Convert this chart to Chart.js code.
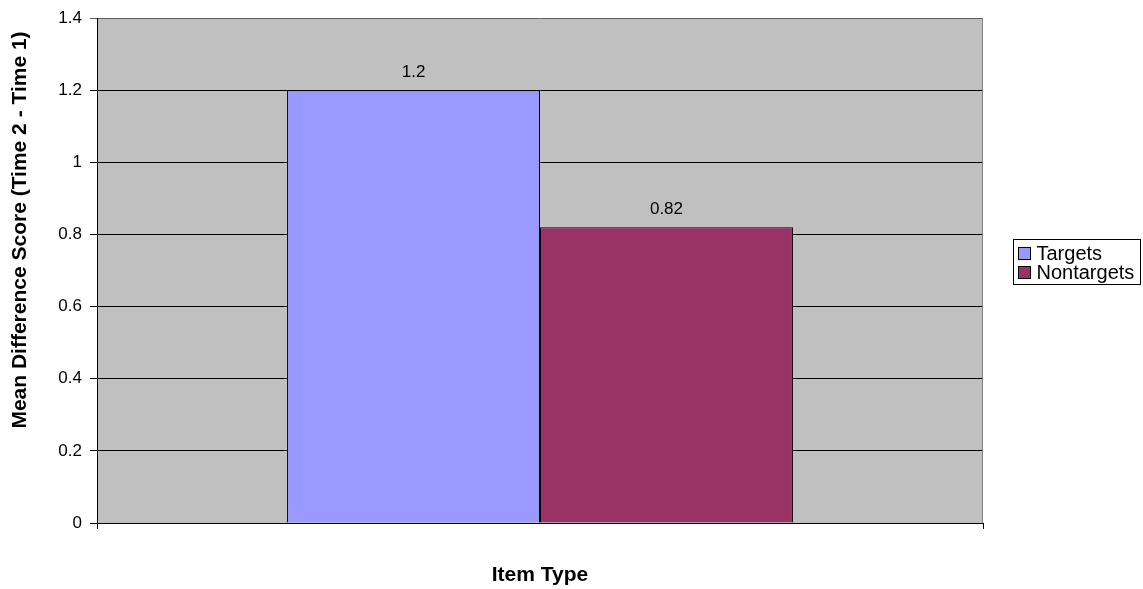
<!DOCTYPE html>
<html>
<head>
<meta charset="utf-8">
<script src="https://cdn.jsdelivr.net/npm/chart.js"></script>
<style>
  html, body { margin: 0; padding: 0; background: #fff; }
  canvas { display: block; }
</style>
</head>
<body>
<canvas id="chart" width="1143" height="589"></canvas>
<script>
const categories = [''];
const seriesNames = ['Targets', 'Nontargets'];
const targets = [1.2];
const nontargets = [0.82];
const seriesColors = ['#9999FF', '#993366'];
const yTitle = 'Mean Difference Score (Time 2 - Time 1)';
const xTitle = 'Item Type';

const FONT = 'Arial, "Liberation Sans", sans-serif';

// gray plot background plus the gray right frame
const plotBackground = {
  id: 'plotBackground',
  beforeDraw(chart) {
    const { ctx, chartArea: a } = chart;
    ctx.save();
    ctx.fillStyle = '#C0C0C0';
    ctx.fillRect(a.left, a.top, a.right - a.left, a.bottom - a.top);
    ctx.restore();
  },
  beforeDatasetsDraw(chart) {
    const { ctx, chartArea: a } = chart;
    ctx.save();
    ctx.strokeStyle = '#808080';
    ctx.lineWidth = 1;
    ctx.beginPath();
    ctx.moveTo(a.right - 0.5, a.top);
    ctx.lineTo(a.right - 0.5, a.bottom);
    ctx.stroke();
    ctx.restore();
  }
};

// value labels above each bar
const valueLabels = {
  id: 'valueLabels',
  afterDatasetsDraw(chart) {
    const { ctx } = chart;
    ctx.save();
    ctx.font = '17px ' + FONT;
    ctx.fillStyle = '#000';
    ctx.textAlign = 'center';
    ctx.textBaseline = 'middle';
    chart.data.datasets.forEach((ds, i) => {
      chart.getDatasetMeta(i).data.forEach((bar, j) => {
        ctx.fillText(String(ds.data[j]), bar.x, bar.y - 18);
      });
    });
    ctx.restore();
  }
};

// y title sits a bit above the plot centre in the original, so draw it by hand
const sideTitle = {
  id: 'sideTitle',
  afterDraw(chart) {
    const { ctx } = chart;
    ctx.save();
    ctx.translate(20, 230);
    ctx.rotate(-Math.PI / 2);
    ctx.font = 'bold 21px ' + FONT;
    ctx.fillStyle = '#000';
    ctx.textAlign = 'center';
    ctx.textBaseline = 'middle';
    ctx.fillText(yTitle, 0, 0);
    ctx.restore();
  }
};

// boxed legend on the right, like the original
const boxLegend = {
  id: 'boxLegend',
  afterDraw(chart) {
    const { ctx } = chart;
    const x = 1013.5, y = 239.5, w = 127, rowH = 19;
    const h = rowH * chart.data.datasets.length + 7;
    ctx.save();
    ctx.fillStyle = '#fff';
    ctx.fillRect(x, y, w, h);
    ctx.strokeStyle = '#000';
    ctx.lineWidth = 1;
    ctx.strokeRect(x, y, w, h);
    ctx.font = '20px ' + FONT;
    ctx.textBaseline = 'middle';
    chart.data.datasets.forEach((ds, i) => {
      const cy = y + 14 + i * rowH;
      ctx.fillStyle = ds.backgroundColor;
      ctx.fillRect(x + 5, cy - 6, 12, 12);
      ctx.strokeRect(x + 5, cy - 6, 12, 12);
      ctx.fillStyle = '#000';
      ctx.fillText(ds.label, x + 23, cy + 1);
    });
    ctx.restore();
  }
};

new Chart(document.getElementById('chart').getContext('2d'), {
  type: 'bar',
  data: {
    labels: categories,
    datasets: [
      { label: seriesNames[0], data: targets, backgroundColor: seriesColors[0], borderColor: '#000', borderWidth: 1 },
      { label: seriesNames[1], data: nontargets, backgroundColor: seriesColors[1], borderColor: '#000', borderWidth: 1 }
    ]
  },
  options: {
    responsive: false,
    animation: false,
    categoryPercentage: 0.571,
    barPercentage: 1,
    layout: { padding: { left: 0, top: 17, right: 160, bottom: 0 } },
    plugins: {
      legend: { display: false },
      tooltip: { enabled: false }
    },
    scales: {
      x: {
        offset: true,
        afterFit(scale) { scale.height = 66; },
        ticks: { display: false },
        grid: { offset: true, drawOnChartArea: false, tickLength: 6, color: '#000' },
        border: { color: '#000', width: 1 },
        title: {
          display: true,
          text: xTitle,
          color: '#000',
          font: { family: FONT, size: 21, weight: 'bold' },
          padding: { top: 0, bottom: 1 }
        }
      },
      y: {
        min: 0,
        max: 1.4,
        afterFit(scale) { scale.width = 97; },
        ticks: {
          stepSize: 0.2,
          color: '#000',
          padding: 8,
          font: { family: FONT, size: 17 },
          callback: v => String(+v.toFixed(1))
        },
        grid: {
          tickLength: 7,
          color: ctx => (ctx.tick && Math.abs(ctx.tick.value - 1.4) < 1e-6 ? '#606060' : '#000')
        },
        border: { color: '#000', width: 1 }
      }
    }
  },
  plugins: [plotBackground, valueLabels, sideTitle, boxLegend]
});
</script>
</body>
</html>
